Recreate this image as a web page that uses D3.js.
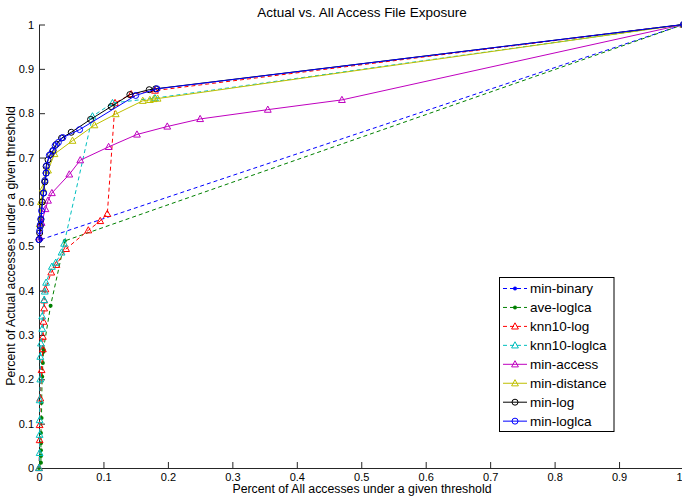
<!DOCTYPE html>
<html><head><meta charset="utf-8">
<script src="https://cdnjs.cloudflare.com/ajax/libs/d3/7.8.5/d3.min.js"></script>
<style>html,body{margin:0;padding:0;background:#fff}svg{display:block;font-family:"Liberation Sans",Arial,sans-serif}</style>
</head><body><svg id="c" width="682" height="498"></svg>
<script>
const seriesNames = ["min-binary","ave-loglca","knn10-log","knn10-loglca","min-access","min-distance","min-log","min-loglca"];
const xTicks = [0,0.1,0.2,0.3,0.4,0.5,0.6,0.7,0.8,0.9,1];
const yTicks = [0,0.1,0.2,0.3,0.4,0.5,0.6,0.7,0.8,0.9,1];

const minBinary = [[0.003,0.515],[1,1]];
const aveLoglca = [[0,0],[0.003,0.012],[0.003,0.027],[0.003,0.04],[0.003,0.056],[0.003,0.079],[0.004,0.113],[0.004,0.147],[0.005,0.206],[0.006,0.237],[0.007,0.262],[0.007,0.268],[0.018,0.366],[0.040,0.512],[1,1]];
const knn10Log = [[0,0],[0.001,0.063],[0.001,0.097],[0.002,0.157],[0.004,0.221],[0.006,0.268],[0.006,0.296],[0.007,0.33],[0.008,0.36],[0.008,0.378],[0.010,0.403],[0.019,0.441],[0.027,0.458],[0.042,0.494],[0.0765,0.536],[0.095,0.557],[0.106,0.573],[0.118,0.823],[0.143,0.843],[0.18,0.851],[1,1]];
const knn10Loglca = [[0,0],[0.001,0.034],[0.001,0.075],[0.001,0.108],[0.001,0.153],[0.002,0.2],[0.002,0.251],[0.003,0.281],[0.005,0.314],[0.005,0.342],[0.008,0.379],[0.009,0.398],[0.011,0.418],[0.02,0.454],[0.026,0.463],[0.035,0.486],[0.039,0.506],[0.083,0.793],[0.114,0.823],[0.18,0.834],[1,1]];
const minAccess = [[0.001,0.52],[0.004,0.553],[0.010,0.584],[0.014,0.603],[0.020,0.62],[0.047,0.662],[0.064,0.694],[0.108,0.724],[0.152,0.752],[0.199,0.77],[0.25,0.787],[0.355,0.808],[0.47,0.83],[1,1]];
const minDistance = [[0.001,0.55],[0.003,0.6],[0.006,0.63],[0.009,0.65],[0.014,0.671],[0.024,0.708],[0.052,0.738],[0.086,0.773],[0.119,0.798],[0.161,0.828],[0.172,0.83],[0.178,0.832],[0.184,0.833],[1,1]];
const minLog = [[0,0.515],[0.001,0.53],[0.002,0.545],[0.003,0.56],[0.005,0.6],[0.007,0.62],[0.009,0.645],[0.011,0.665],[0.011,0.68],[0.014,0.695],[0.018,0.707],[0.022,0.716],[0.027,0.73],[0.035,0.744],[0.05,0.757],[0.08,0.786],[0.112,0.815],[0.141,0.842],[0.171,0.853],[0.181,0.855],[1,1]];
const minLoglca = [[0,0.515],[0.001,0.535],[0.002,0.548],[0.003,0.562],[0.004,0.58],[0.007,0.62],[0.009,0.648],[0.011,0.665],[0.012,0.682],[0.016,0.705],[0.021,0.714],[0.025,0.727],[0.03,0.734],[0.037,0.745],[0.063,0.763],[0.15,0.84],[0.183,0.855],[1,1]];

const seriesData = [minBinary,aveLoglca,knn10Log,knn10Loglca,minAccess,minDistance,minLog,minLoglca];
const colors = ["#0000ff","#008000","#ff0000","#00bfbf","#bf00bf","#bfbf00","#000000","#0000ff"];
const dashed = [true,true,true,true,false,false,false,false];
const markers = ["dot","dot","tri","tri","tri","tri","circ","circ"];

const svg = d3.select("#c");
const x = d3.scaleLinear().domain([0,1]).range([39,683.5]);
const y = d3.scaleLinear().domain([0,1]).range([468,24.5]);
const fmt = d => d===0?"0":(d===1?"1":d3.format(".1f")(d));

// axes
const gx = svg.append("g").attr("transform","translate(0,468)")
  .call(d3.axisBottom(x).tickValues(xTicks).tickFormat(fmt).tickSizeInner(-6).tickSizeOuter(0).tickPadding(5));
const gy = svg.append("g").attr("transform","translate(39,0)")
  .call(d3.axisLeft(y).tickValues(yTicks).tickFormat(fmt).tickSizeInner(-6).tickSizeOuter(0).tickPadding(5));
[gx,gy].forEach(g=>{
  g.selectAll("path,line").attr("stroke","#262626").attr("stroke-width",1);
  g.selectAll("text").attr("font-family","Liberation Sans, Arial, sans-serif").attr("font-size",11).attr("fill","#000");
});
// keep the last x tick label inside the window
gx.selectAll(".tick").filter(d=>d===1).select("text").attr("text-anchor","end").attr("x",-1.5);

const line = d3.line().x(d=>x(d[0])).y(d=>y(d[1]));
function drawMarker(g, type, cx, cy, col){
  if(type==="dot") g.append("circle").attr("cx",cx).attr("cy",cy).attr("r",2).attr("fill",col);
  else if(type==="circ") g.append("circle").attr("cx",cx).attr("cy",cy).attr("r",3).attr("fill","none").attr("stroke",col).attr("stroke-width",1);
  else g.append("path").attr("d",`M${cx},${cy-3.6}L${cx+3.4},${cy+2.6}L${cx-3.4},${cy+2.6}Z`).attr("fill","none").attr("stroke",col).attr("stroke-width",1);
}
const plot = svg.append("g");
seriesData.forEach((data,i)=>{
  const g = plot.append("g");
  g.append("path").attr("d",line(data)).attr("fill","none").attr("stroke",colors[i]).attr("stroke-width",1)
    .attr("stroke-dasharray",dashed[i]?"4,3":null);
  data.forEach(d=>drawMarker(g,markers[i],x(d[0]),y(d[1]),colors[i]));
});

// title and labels
svg.append("text").attr("x",362).attr("y",17).attr("text-anchor","middle").attr("font-size",13.5).text("Actual vs. All Access File Exposure");
svg.append("text").attr("x",362).attr("y",492.5).attr("text-anchor","middle").attr("font-size",12.3).text("Percent of All accesses under a given threshold");
svg.append("text").attr("transform","translate(15,246) rotate(-90)").attr("text-anchor","middle").attr("font-size",12.3).text("Percent of Actual accesses under a given threshold");

// legend
const lg = svg.append("g");
lg.append("rect").attr("x",499.5).attr("y",277.5).attr("width",114.5).attr("height",154).attr("fill","#fff").attr("stroke","#000").attr("stroke-width",1);
seriesNames.forEach((n,i)=>{
  const ly = 288.5 + i*18.95;
  lg.append("line").attr("x1",503).attr("x2",527).attr("y1",ly).attr("y2",ly).attr("stroke",colors[i]).attr("stroke-width",1)
    .attr("stroke-dasharray",dashed[i]?"4,3":null);
  drawMarker(lg,markers[i],515,ly,colors[i]);
  lg.append("text").attr("x",530).attr("y",ly+4.8).attr("font-size",13.5).text(n);
});
</script></body></html>
